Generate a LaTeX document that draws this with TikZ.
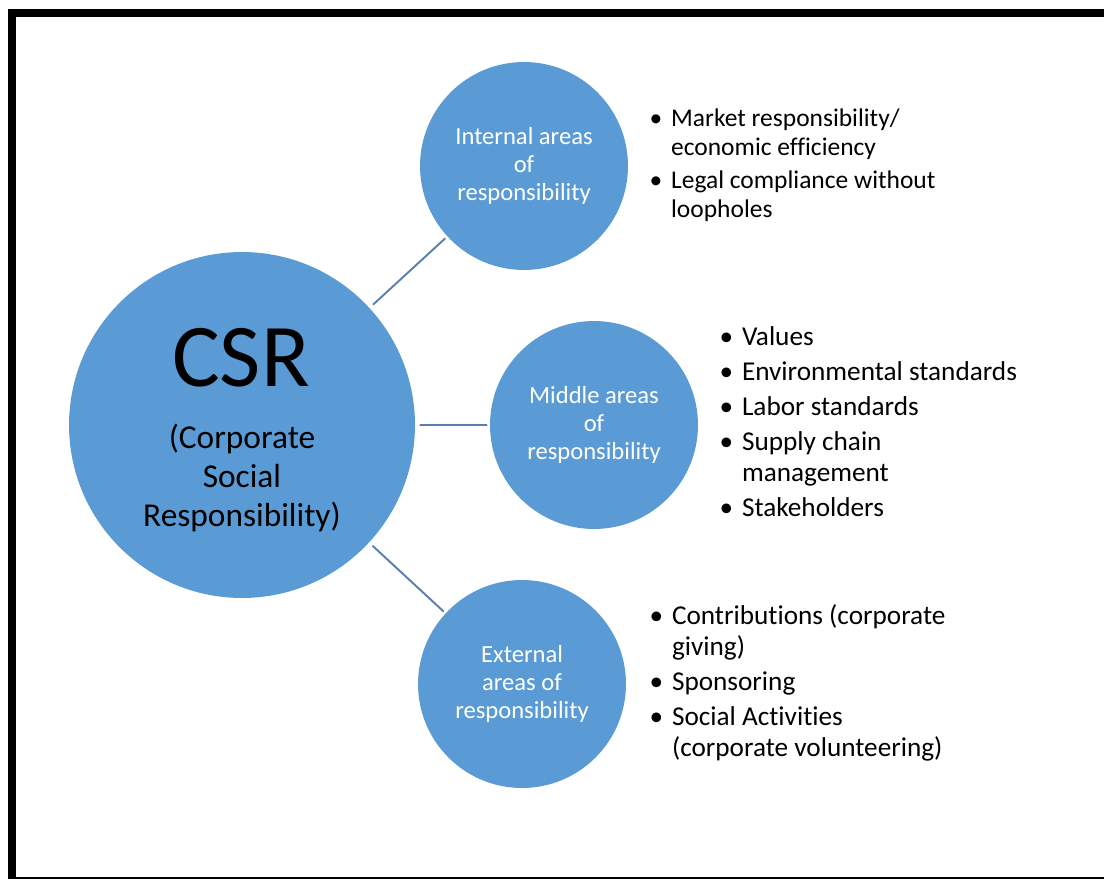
\documentclass[tikz,border=0pt]{standalone}
\usepackage{fontspec}
\setmainfont{Carlito}[Ligatures=NoCommon]
\usetikzlibrary{positioning}
\definecolor{discblue}{HTML}{5B9BD5}
\definecolor{linkblue}{HTML}{5A7FAE}

\begin{document}
\begin{tikzpicture}[x=0.02cm, y=-0.02cm, line join=round, line cap=round,
	disc/.style={circle, fill=discblue, inner sep=0pt, minimum size=4.16cm,
		text=white, align=center, font=\fontsize{14}{16}\selectfont},
	bigdisc/.style={disc, minimum size=6.92cm},
	link/.style={draw=linkblue, line width=1.1pt, shorten <=0.1cm, shorten >=0.06cm},
	blist/.style={inner sep=0pt, font=\fontsize{15.5}{17.6}\selectfont},
	node distance=0.42cm]
	\def\W{1104} \def\H{879} % page in px
	\useasboundingbox (0,0) rectangle (\W,\H);
	% black frame, open on the right
	\fill (8,9) rectangle (\W,17);
	\fill (8,9) rectangle (16,\H);
	\fill (8,877) rectangle (\W,\H);

	% centre disc
	\node[bigdisc] (csr) at (242,425) {};
	\node[anchor=base, font=\fontsize{51}{60}\selectfont] (csrname) at (241,386) {CSR};
	\node[align=center, font=\fontsize{19}{22}\selectfont] (csrlong) at (242,478) {(Corporate\\Social\\Responsibility)};

	% the three areas
	\node[disc] (internal) at (524,166) {Internal areas\\of\\responsibility};
	\node[disc] (middle) at (594,425) {Middle areas\\of\\responsibility};
	\node[disc] (external) at (522,684) {External\\areas of\\responsibility};

	\draw[link] (csr) -- (internal);
	\draw[link] (csr) -- (middle);
	\draw[link] (csr) -- (external);

	% bullet lists
	\node[blist, right=of internal, font=\fontsize{14.5}{16.8}\selectfont] (internallist) {%
		\begin{tabular}{@{}l@{\hspace{5pt}}l@{}}
			\textbullet & Market responsibility/\\
			            & economic efficiency\\[1.6pt]
			\textbullet & Legal compliance without\\
			            & loopholes
		\end{tabular}};
	\node[blist, right=of middle] (middlelist) {%
		\begin{tabular}{@{}l@{\hspace{5pt}}l@{}}
			\textbullet & Values\\[2.3pt]
			\textbullet & Environmental standards\\[2.3pt]
			\textbullet & Labor standards\\[2.3pt]
			\textbullet & Supply chain\\
			            & management\\[2.3pt]
			\textbullet & Stakeholders
		\end{tabular}};
	\node[blist, right=0.46cm of external] (externallist) {%
		\begin{tabular}{@{}l@{\hspace{5pt}}l@{}}
			\textbullet & Contributions (corporate\\
			            & giving)\\[2.3pt]
			\textbullet & Sponsoring\\[2.3pt]
			\textbullet & Social Activities\\
			            & (corporate volunteering)
		\end{tabular}};
\end{tikzpicture}
\end{document}
